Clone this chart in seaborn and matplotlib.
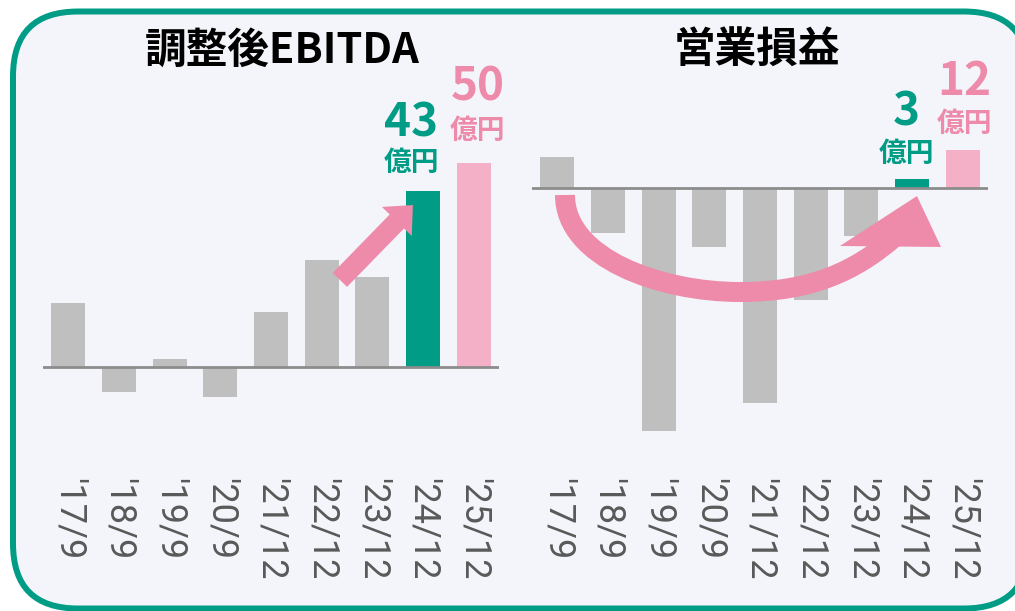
import matplotlib
matplotlib.use("Agg")
import matplotlib.pyplot as plt
from matplotlib.patches import FancyBboxPatch, FancyArrowPatch, PathPatch, Polygon
from matplotlib.path import Path
from matplotlib.transforms import IdentityTransform
import seaborn as sns

# data (units: 億円)
periods = ["'17/9", "'18/9", "'19/9", "'20/9", "'21/12", "'22/12", "'23/12", "'24/12", "'25/12"]
ebitda = [15.6, -6.1, 2.0, -7.3, 13.4, 26.2, 22.0, 43, 50]
op_income = [9.7, -14.0, -76.0, -18.4, -67.0, -35.0, -15.0, 3, 12]
titles = ["調整後EBITDA", "営業損益"]

GRAY = "#BFBFBF"
TEAL = "#009C86"
PINK_BAR = "#F4B0C6"
PINK = "#EE8AAA"
bar_colors = [GRAY] * 7 + [TEAL, PINK_BAR]

sns.set_style("white")
plt.rcParams["font.family"] = ["Noto Sans CJK JP", "DejaVu Sans"]

W, H = 1015, 611
fig = plt.figure(figsize=(W / 100, H / 100), dpi=100)

# rounded teal frame (pixel coords)
frame = FancyBboxPatch((13, 2.5), 1016, 597, boxstyle="round,pad=0,rounding_size=65",
                       fc="#F4F5FA", ec=TEAL, lw=4.3, transform=IdentityTransform(), zorder=-1)
fig.add_artist(frame)


def draw_panel(rect, values, ylim, title, title_x):
    ax = fig.add_axes(rect)
    ax.set_facecolor("none")
    sns.barplot(x=periods, y=values, hue=periods, palette=bar_colors, legend=False,
                width=0.67, saturation=1, linewidth=0, ax=ax)
    ax.axhline(0, color="#8C8C8C", lw=2, zorder=3)
    ax.set_xlim(-0.5, len(periods) - 0.5)
    ax.set_ylim(*ylim)
    ax.set_yticks([])
    ax.set_xlabel("")
    ax.set_ylabel("")
    ax.set_xticks(range(len(periods)))
    ax.set_xticklabels(periods, rotation=270, va="top", ha="center",
                       fontfamily="Roboto", fontsize=26, color="#595959")
    ax.tick_params(axis="x", length=0, pad=4.3)
    sns.despine(ax=ax, left=True, bottom=True)
    fig.text(title_x / W, 1 - 51 / H, title, ha="center", va="center",
             fontsize=30, fontweight="bold", color="black")
    return ax


def value_label(ax, idx, values, color, dx, dy_num, dy_unit):
    v = values[idx]
    ax.annotate(f"{v:g}", xy=(idx, v), xytext=(dx, dy_num), textcoords="offset points",
                ha="center", va="center", fontsize=33, fontweight="bold", color=color)
    ax.annotate("億円", xy=(idx, v), xytext=(dx, dy_unit), textcoords="offset points",
                ha="center", va="center", fontsize=20, fontweight="bold", color=color)


ax1 = draw_panel([43 / W, 0.2275, 456 / W, 0.7070], ebitda, (-25.67, 79.95), titles[0], 282)
ax2 = draw_panel([532 / W, 0.2275, 456 / W, 0.7070], op_income, (-88.66, 46.34), titles[1], 757)

value_label(ax1, 7, ebitda, TEAL, -8.6, 49, 20)
value_label(ax1, 8, ebitda, PINK, 3, 54, 22.7)
value_label(ax2, 7, op_income, TEAL, -4.3, 47.6, 17.6)
value_label(ax2, 8, op_income, PINK, 1.4, 49, 19)

# growth arrow (left)
ax1.add_patch(FancyArrowPatch((5.36, 21.3), (6.80, 39.6), mutation_scale=1,
                              arrowstyle="simple,head_length=16.5,head_width=30,tail_width=14.4",
                              shrinkA=0, shrinkB=0, color=PINK, lw=0, zorder=4))
# turnaround arrow (right): thick bezier shaft + skewed head
curve = Path([(0.151, -2.09), (0.151, -21.78), (2.026, -32.41), (3.605, -32.41),
              (4.987, -32.41), (5.875, -26.16), (6.684, -14.91)],
             [Path.MOVETO] + [Path.CURVE4] * 6)
ax2.add_patch(PathPatch(curve, fill=False, ec=PINK, lw=14.4, capstyle="butt", zorder=4))
ax2.add_patch(Polygon([(5.578, -18.03), (7.572, -18.34), (7.098, -2.41)],
                      closed=True, fc=PINK, ec="none", zorder=4))

fig.savefig("out.png", dpi=100)
